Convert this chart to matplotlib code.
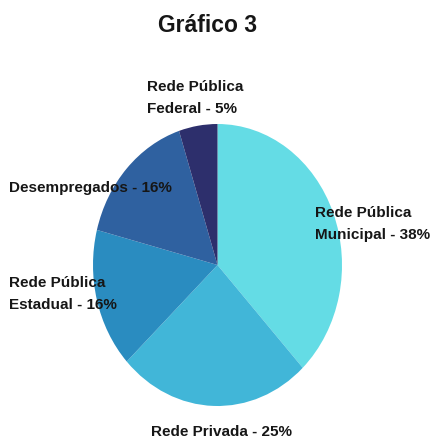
import matplotlib
matplotlib.use("Agg")
import matplotlib.pyplot as plt

# Distribution of respondents by employment sector
categories = ["Rede Pública\nMunicipal", "Rede Privada", "Rede Pública\nEstadual",
              "Desempregados", "Rede Pública\nFederal"]
values = [38, 25, 16, 16, 5]
colors = ["#64dce5", "#41b6d8", "#2a8cc0", "#2f61a0", "#2d2f6c"]

W, H = 436, 439
fig = plt.figure(figsize=(W / 100, H / 100), dpi=100)
fig.patch.set_facecolor("white")

# pie area (elliptical, as in the original layout)
left, right, top, bottom = 93, 342, 125, 407
ax = fig.add_axes([left / W, 1 - bottom / H, (right - left) / W, (bottom - top) / H])
ax.pie(values, colors=colors, startangle=90, counterclock=False,
       wedgeprops=dict(linewidth=0))
ax.set_aspect("auto")
ax.set_xlim(-1, 1)
ax.set_ylim(-1, 1)
ax.axis("off")

font = dict(family=["Liberation Sans", "DejaVu Sans"], fontweight="bold",
            color="#161616")

fig.text(208 / W, 1 - 25 / H, "Gráfico 3", ha="center", va="center",
         fontsize=16.5, **font)

def label(i):
    return f"{categories[i]} - {values[i]}%"

# (x, y, alignment) for each label, in pixels from top-left
placements = [
    (315, 224, "left"),
    (221, 432, "center"),
    (9, 294, "left"),
    (9, 188, "left"),
    (147, 98, "left"),
]
for i, (x, y, ha) in enumerate(placements):
    fig.text(x / W, 1 - y / H, label(i), ha=ha, va="center",
             fontsize=11, linespacing=1.8, **font)

fig.savefig("out.png", dpi=100, facecolor="white")
